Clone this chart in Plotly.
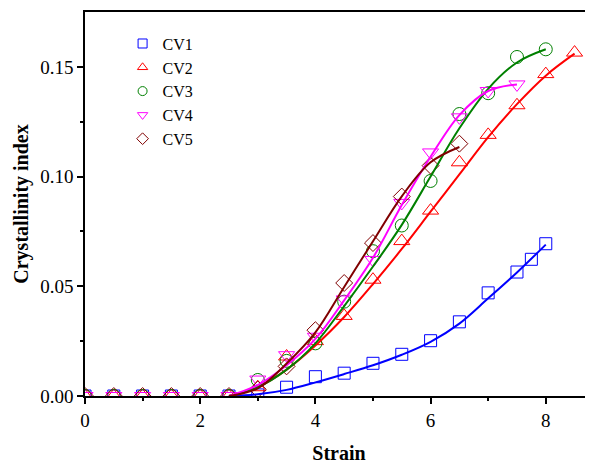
import plotly.graph_objects as go

# ---- measured points ----
cv1_x = [0, 0.5, 1, 1.5, 2, 2.5, 3, 3.5, 4, 4.5, 5, 5.5, 6, 6.5, 7, 7.5, 7.75, 8]
cv1_y = [0, 0, 0, 0, 0, 0, 0.0005, 0.004, 0.0088, 0.0104, 0.0149, 0.019, 0.0252, 0.0338, 0.047, 0.0565, 0.0623, 0.0694]

cv2_x = [0, 0.5, 1, 1.5, 2, 2.5, 3, 3.5, 4, 4.5, 5, 5.5, 6, 6.5, 7, 7.5, 8, 8.5]
cv2_y = [0, 0, 0, 0, 0, 0, 0.004, 0.018, 0.025, 0.0365, 0.053, 0.0706, 0.0845, 0.1065, 0.119, 0.1325, 0.1467, 0.1565]

cv3_x = [0, 0.5, 1, 1.5, 2, 2.5, 3, 3.5, 4, 4.5, 5, 5.5, 6, 6.5, 7, 7.5, 8]
cv3_y = [0, 0, 0, 0, 0, 0, 0.0073, 0.016, 0.024, 0.043, 0.066, 0.0777, 0.098, 0.1285, 0.138, 0.1545, 0.158]

cv4_x = [0, 0.5, 1, 1.5, 2, 2.5, 3, 3.5, 4, 4.5, 5, 5.5, 6, 6.5, 7, 7.5]
cv4_y = [0, 0, 0, 0, 0, 0, 0.0075, 0.0186, 0.027, 0.044, 0.062, 0.088, 0.111, 0.127, 0.139, 0.142]

cv5_x = [0, 0.5, 1, 1.5, 2, 2.5, 3, 3.5, 4, 4.5, 5, 5.5, 6, 6.5]
cv5_y = [0, 0, 0, 0, 0, 0, 0.003, 0.0135, 0.030, 0.0515, 0.0697, 0.0909, 0.105, 0.115]

# ---- fitted curves ----
fit1_x = [2.5, 3, 3.5, 4, 4.5, 5, 5.5, 6, 6.5, 7, 7.5, 8]
fit1_y = [0, 0.0008, 0.0028, 0.0062, 0.0100, 0.0140, 0.0188, 0.0247, 0.033, 0.0445, 0.0563, 0.069]

fit2_x = [2.5, 3, 3.5, 4, 4.5, 5, 5.5, 6, 6.5, 7, 7.5, 8, 8.5]
fit2_y = [0, 0.004, 0.012, 0.023, 0.036, 0.051, 0.067, 0.084, 0.101, 0.118, 0.133, 0.146, 0.156]

fit3_x = [2.5, 3, 3.5, 4, 4.5, 5, 5.5, 6, 6.5, 7, 7.5, 8]
fit3_y = [0, 0.004, 0.012, 0.024, 0.041, 0.059, 0.078, 0.100, 0.122, 0.140, 0.152, 0.158]

fit4_x = [2.5, 3, 3.5, 4, 4.5, 5, 5.5, 6, 6.5, 7, 7.5]
fit4_y = [0, 0.005, 0.014, 0.026, 0.0436, 0.063, 0.087, 0.109, 0.128, 0.139, 0.142]

fit5_x = [2.5, 3, 3.5, 4, 4.5, 5, 5.5, 6, 6.5]
fit5_y = [0, 0.0035, 0.0148, 0.029, 0.0497, 0.0705, 0.091, 0.1065, 0.1135]

names = ["CV1", "CV2", "CV3", "CV4", "CV5"]
colors = ["#0000FF", "#FF0000", "#008000", "#FF00FF", "#800000"]
symbols = ["square-open", "triangle-up-open", "circle-open", "triangle-down-open", "diamond-open"]
sizes = [12, 14, 13, 14, 13]

pts = [(cv1_x, cv1_y), (cv2_x, cv2_y), (cv3_x, cv3_y), (cv4_x, cv4_y), (cv5_x, cv5_y)]
fits = [(fit1_x, fit1_y), (fit2_x, fit2_y), (fit3_x, fit3_y), (fit4_x, fit4_y), (fit5_x, fit5_y)]

FONT = "Liberation Serif"

fig = go.Figure()
for (px, py), c, s, sz in zip(pts, colors, symbols, sizes):
    fig.add_trace(go.Scatter(x=px, y=py, mode="markers", showlegend=False,
                             marker=dict(symbol=s, size=sz, color=c, line=dict(width=1, color=c))))
for (fx, fy), c in zip(fits, colors):
    fig.add_trace(go.Scatter(x=fx, y=fy, mode="lines", showlegend=False,
                             line=dict(color=c, width=2, shape="spline", smoothing=1.0)))
for n, c, s in zip(names, colors, symbols):
    fig.add_trace(go.Scatter(x=[None], y=[None], mode="markers", name=n,
                             marker=dict(symbol=s, size=9, color=c, line=dict(width=1, color=c))))

# the page body has an 8px margin, so the figure is sized to end at the window edge
fig.update_layout(
    width=585, height=456,
    margin=dict(l=77, r=0, t=4, b=68),
    paper_bgcolor="white", plot_bgcolor="white",
    font=dict(family=FONT, size=18, color="black"),
    legend=dict(x=0.074, y=0.962, xanchor="left", yanchor="top",
                font=dict(family=FONT, size=16), bgcolor="rgba(0,0,0,0)",
                tracegroupgap=0, itemsizing="trace"),
    xaxis=dict(range=[0, 8.82], showgrid=False, zeroline=False, automargin=False,
               showline=True, linecolor="black", linewidth=1.5, mirror=True,
               ticks="outside", ticklen=6, tickwidth=1.5, tickcolor="black",
               tickvals=[0, 2, 4, 6, 8], ticktext=["0", "2", "4", "6", "8"],
               minor=dict(ticks="outside", ticklen=3, tickwidth=1.5, tickcolor="black",
                          tickvals=[1, 3, 5, 7]),
               tickfont=dict(family=FONT, size=19),
               title=dict(text="<b>Strain</b>", font=dict(family=FONT, size=20), standoff=16)),
    yaxis=dict(range=[0, 0.175], showgrid=False, zeroline=False, automargin=False,
               showline=True, linecolor="black", linewidth=1.5, mirror=False,
               ticks="outside", ticklen=6, tickwidth=1.5, tickcolor="black",
               tickvals=[0, 0.05, 0.10, 0.15], ticktext=["0.00", "0.05", "0.10", "0.15"],
               minor=dict(ticks="outside", ticklen=3, tickwidth=1.5, tickcolor="black",
                          tickvals=[0.025, 0.075, 0.125]),
               tickfont=dict(family=FONT, size=19),
               title=dict(text="<b>Crystallinity index</b>", font=dict(family=FONT, size=20), standoff=6)),
)

fig.write_html("out.html")
